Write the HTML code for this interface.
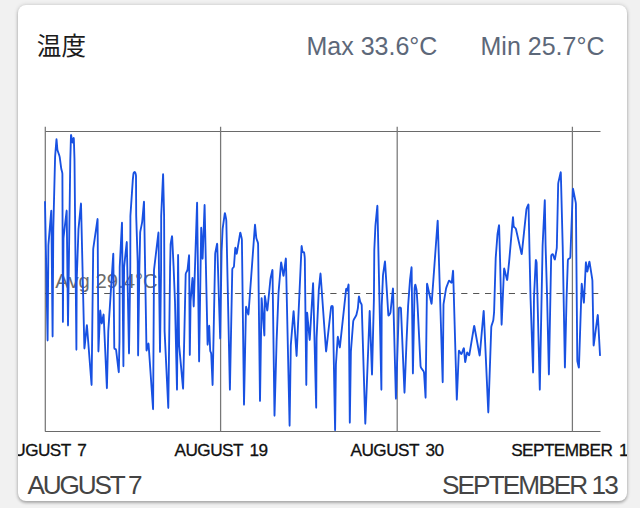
<!DOCTYPE html>
<html lang="ja">
<head>
<meta charset="utf-8">
<title>温度</title>
<style>
html,body{margin:0;padding:0;}
body{width:640px;height:508px;overflow:hidden;background:#f1f1f1;font-family:"Liberation Sans","Noto Sans CJK JP",sans-serif;position:relative;}
.card{position:absolute;left:18px;top:5px;width:609px;height:496px;background:#fff;border-radius:8px;box-shadow:0 2px 3px rgba(0,0,0,.24),0 0 4px rgba(0,0,0,.18);overflow:hidden;}
.title{position:absolute;left:18.8px;top:27.4px;font-size:24.6px;line-height:30px;color:#1c1c1c;}
.stat{position:absolute;top:26px;font-size:25px;line-height:30px;color:#5d6879;white-space:nowrap;}
.max{left:288.5px;}
.min{left:462.5px;}
svg{position:absolute;left:-18px;top:-5px;}
.xl{position:absolute;top:433.1px;font-size:17.2px;line-height:24px;color:#111;white-space:nowrap;transform:translateX(-50%);letter-spacing:-.55px;word-spacing:2.6px;-webkit-text-stroke:.3px #111;}
.big{position:absolute;top:465.3px;font-size:26.2px;line-height:30px;color:#444;white-space:nowrap;}
.avg{position:absolute;left:37.3px;top:262.3px;font-size:20.3px;line-height:28px;color:#6c6c6c;white-space:nowrap;}
</style>
</head>
<body>
<div class="card">
  <div class="title">温度</div>
  <div class="stat max">Max 33.6°C</div>
  <div class="stat min">Min 25.7°C</div>
  <div class="avg">Avg 29.4°C</div>
  <svg width="640" height="508" viewBox="0 0 640 508">
    <g stroke="#6a6a6a" stroke-width="1.15" fill="none">
      <line x1="45" y1="131.5" x2="600.5" y2="131.5"/>
      <line x1="45" y1="431.5" x2="600.5" y2="431.5"/>
    </g>
    <g stroke="#777" stroke-width="1.25" fill="none">
      <line x1="45.3" y1="126.7" x2="45.3" y2="431.5"/>
      <line x1="220.6" y1="126.7" x2="220.6" y2="431.5"/>
      <line x1="397.2" y1="126.7" x2="397.2" y2="431.5"/>
      <line x1="572.4" y1="126.7" x2="572.4" y2="431.5"/>
    </g>
    <line x1="45" y1="293.4" x2="600.5" y2="293.4" stroke="#555" stroke-width="1.05" stroke-dasharray="6.2,5.7" stroke-dashoffset="0.3"/>
    <path d="M45.0,202.0L47.58,339.90Q47.60,341.00 47.61,339.90L48.39,246.10Q48.40,245.00 48.49,243.90L51.21,211.10Q51.30,210.00 51.31,211.10L52.59,335.90Q52.60,337.00 52.61,335.90L53.29,230.10Q53.30,229.00 53.33,227.90L55.07,158.10Q55.10,157.00 55.18,155.90L56.42,139.80Q56.50,138.70 56.59,139.80L57.31,148.90Q57.40,150.00 57.76,151.04L59.24,155.26Q59.60,156.30 59.75,157.39L61.15,167.91Q61.30,169.00 61.59,170.06L62.11,171.94Q62.40,173.00 62.40,174.10L62.90,321.60Q62.90,322.70 62.91,321.60L63.49,239.10Q63.50,238.00 63.62,236.91L66.58,211.09Q66.70,210.00 66.71,211.10L67.99,324.90Q68.00,326.00 68.02,324.90L70.28,161.10Q70.30,160.00 70.33,158.90L70.97,135.40Q71.00,134.30 71.19,135.38L72.31,141.92Q72.50,143.00 72.75,141.93L73.55,138.47Q73.80,137.40 73.83,138.50L74.47,158.90Q74.50,160.00 74.51,161.10L76.39,349.20Q76.40,350.30 76.40,349.20L76.70,281.10Q76.70,280.00 76.74,278.90L78.46,230.10Q78.50,229.00 78.61,227.91L80.89,204.09Q81.00,203.00 81.03,204.10L84.37,347.90Q84.40,349.00 84.51,347.91L86.79,325.69Q86.90,324.60 86.98,325.70L91.52,384.50Q91.60,385.60 91.61,384.50L93.19,250.10Q93.20,249.00 93.36,247.91L97.44,219.59Q97.60,218.50 97.61,219.60L98.39,350.90Q98.40,352.00 98.45,350.90L100.15,311.10Q100.20,310.00 100.32,311.09L101.58,322.91Q101.70,324.00 101.91,322.92L103.39,315.08Q103.60,314.00 103.65,315.10L106.85,387.80Q106.90,388.90 106.93,387.80L108.27,332.10Q108.30,331.00 108.37,329.90L113.23,254.10Q113.30,253.00 113.31,254.10L114.29,347.90Q114.30,349.00 115.15,349.00L115.15,349.00Q116.00,349.00 116.13,350.09L118.67,371.71Q118.80,372.80 118.82,371.70L119.48,341.10Q119.50,340.00 119.50,338.90L119.70,268.10Q119.70,267.00 119.76,265.90L121.94,223.10Q122.00,222.00 122.01,223.10L123.39,365.70Q123.40,366.80 123.41,365.70L124.09,268.10Q124.10,267.00 124.22,265.91L126.68,242.59Q126.80,241.50 126.82,242.60L128.98,352.90Q129.00,354.00 129.02,352.90L130.28,268.10Q130.30,267.00 130.30,265.90L130.40,217.10Q130.40,216.00 130.47,214.90L132.73,181.10Q132.80,180.00 132.91,178.91L133.39,174.09Q133.50,173.00 134.25,172.30L134.25,172.30Q135.00,171.60 135.31,172.66L135.69,173.94Q136.00,175.00 136.01,176.10L136.19,214.90Q136.20,216.00 136.24,217.10L137.66,260.90Q137.70,262.00 137.70,263.10L138.10,354.90Q138.10,356.00 138.12,354.90L139.38,268.10Q139.40,267.00 139.43,265.90L140.17,233.10Q140.20,232.00 140.42,230.92L141.98,223.08Q142.20,222.00 142.29,220.90L143.91,202.10Q144.00,201.00 144.02,202.10L146.48,349.90Q146.50,351.00 146.77,349.93L148.23,344.07Q148.50,343.00 148.58,344.10L153.02,408.70Q153.10,409.80 153.11,408.70L153.99,271.10Q154.00,270.00 154.13,268.91L158.37,233.09Q158.50,232.00 158.51,233.10L159.99,351.60Q160.00,352.70 160.01,351.60L161.09,268.10Q161.10,267.00 161.10,265.90L161.20,217.10Q161.20,216.00 161.25,214.90L163.05,174.60Q163.10,173.50 163.13,174.60L164.07,214.90Q164.10,216.00 164.10,217.10L164.60,329.90Q164.60,331.00 164.65,332.10L168.25,407.40Q168.30,408.50 168.31,407.40L170.09,268.10Q170.10,267.00 170.12,265.90L170.58,245.10Q170.60,244.00 170.79,242.92L171.91,236.68Q172.10,235.60 172.15,236.70L173.55,265.90Q173.60,267.00 173.64,268.10L174.96,300.90Q175.00,302.00 175.02,303.10L176.98,389.20Q177.00,390.30 177.01,389.20L178.09,255.40Q178.10,254.30 178.11,255.40L179.09,343.90Q179.10,345.00 179.20,346.10L183.00,388.20Q183.10,389.30 183.12,388.20L185.68,274.40Q185.70,273.30 186.27,272.36L186.93,271.24Q187.50,270.30 187.61,269.21L188.99,255.79Q189.10,254.70 189.11,255.80L189.79,354.50Q189.80,355.60 189.82,354.50L190.58,302.00Q190.60,300.90 190.69,299.80L192.41,278.50Q192.50,277.40 192.54,278.50L193.66,305.90Q193.70,307.00 193.74,305.90L197.06,203.10Q197.10,202.00 197.11,203.10L199.09,361.10Q199.10,362.20 199.12,361.10L201.18,228.20Q201.20,227.10 201.25,228.20L202.55,258.20Q202.60,259.30 202.64,258.20L204.56,205.50Q204.60,204.40 204.62,205.50L207.58,344.20Q207.60,345.30 207.69,344.20L209.11,326.30Q209.20,325.20 209.24,326.30L210.16,350.20Q210.20,351.30 210.70,352.15L210.70,352.15Q211.20,353.00 211.25,354.10L212.55,384.60Q212.60,385.70 212.62,384.60L215.18,254.30Q215.20,253.20 215.42,252.12L216.98,244.28Q217.20,243.20 217.23,244.30L220.17,338.10Q220.20,339.20 220.22,338.10L221.58,252.10Q221.60,251.00 221.65,249.90L222.55,230.10Q222.60,229.00 222.75,227.91L224.75,213.69Q224.90,212.60 225.10,213.68L226.10,218.92Q226.30,220.00 226.32,221.10L229.88,389.20Q229.90,390.30 229.92,389.20L232.28,269.40Q232.30,268.30 233.10,267.80L233.10,267.80Q233.90,267.30 233.98,266.20L235.22,248.30Q235.30,247.20 235.51,248.28L236.49,253.22Q236.70,254.30 236.88,253.21L240.12,233.19Q240.30,232.10 240.54,233.17L241.66,238.13Q241.90,239.20 241.91,240.30L243.99,404.20Q244.00,405.30 244.02,404.20L245.98,307.20Q246.00,306.10 246.28,307.16L248.12,314.04Q248.40,315.10 248.48,314.00L254.92,225.30Q255.00,224.20 255.10,225.30L256.20,237.10Q256.30,238.20 256.67,239.23L257.73,242.17Q258.10,243.20 258.11,244.30L259.99,400.60Q260.00,401.70 260.02,400.60L261.58,298.60Q261.60,297.50 261.68,298.60L264.32,335.10Q264.40,336.20 264.41,335.10L264.79,296.60Q264.80,295.50 264.97,296.59L267.13,310.01Q267.30,311.10 267.41,310.01L270.39,279.49Q270.50,278.40 270.74,277.33L272.26,270.37Q272.50,269.30 272.51,270.40L274.49,415.30Q274.50,416.40 274.53,415.30L276.57,342.10Q276.60,341.00 276.64,339.90L278.46,294.10Q278.50,293.00 278.59,291.90L281.01,263.00Q281.10,261.90 281.28,262.99L283.32,275.31Q283.50,276.40 283.64,275.31L285.76,258.99Q285.90,257.90 285.92,259.00L289.58,425.30Q289.60,426.40 289.62,425.30L290.78,346.40Q290.80,345.30 290.89,344.20L293.51,311.60Q293.60,310.50 293.67,311.60L296.53,355.40Q296.60,356.50 296.65,355.40L301.55,246.60Q301.60,245.50 301.76,246.59L302.44,251.41Q302.60,252.50 303.35,252.20L303.35,252.20Q304.10,251.90 304.23,252.99L304.67,256.91Q304.80,258.00 304.81,259.10L306.29,384.50Q306.30,385.60 306.31,384.50L307.09,313.20Q307.10,312.10 307.20,313.20L309.60,339.50Q309.70,340.60 309.76,339.50L313.04,283.70Q313.10,282.60 313.13,283.70L316.17,407.30Q316.20,408.40 316.21,407.30L316.59,339.10Q316.60,338.00 316.65,336.90L318.75,291.10Q318.80,290.00 318.91,288.91L320.39,274.09Q320.50,273.00 320.58,274.10L326.02,351.00Q326.10,352.10 326.22,351.01L331.08,307.09Q331.20,306.00 332.00,306.00L332.00,306.00Q332.80,306.00 332.82,307.10L335.08,429.80Q335.10,430.90 335.11,429.80L335.89,365.70Q335.90,364.60 335.97,363.50L337.73,337.30Q337.80,336.20 337.98,337.28L339.62,346.92Q339.80,348.00 339.92,346.91L346.08,289.29Q346.20,288.20 346.55,289.24L346.85,290.16Q347.20,291.20 347.40,290.12L348.40,284.88Q348.60,283.80 348.61,284.90L349.79,422.30Q349.80,423.40 349.82,422.30L350.88,352.40Q350.90,351.30 350.99,350.20L353.21,321.50Q353.30,320.40 353.86,319.45L355.74,316.25Q356.30,315.30 356.55,314.23L357.65,309.37Q357.90,308.30 357.99,307.20L358.81,297.00Q358.90,295.90 359.14,296.97L360.06,301.23Q360.30,302.30 360.93,303.20L361.07,303.40Q361.70,304.30 361.73,305.40L365.27,423.30Q365.30,424.40 365.34,423.30L369.66,311.40Q369.70,310.30 369.74,311.40L371.96,374.10Q372.00,375.20 372.03,374.10L373.87,301.10Q373.90,300.00 373.91,298.90L374.29,251.10Q374.30,250.00 374.35,248.90L375.35,227.10Q375.40,226.00 375.50,224.91L377.30,206.19Q377.40,205.10 377.42,206.20L381.38,389.20Q381.40,390.30 381.40,389.20L381.70,307.10Q381.70,306.00 381.75,304.90L382.95,276.10Q383.00,275.00 383.16,273.91L384.84,262.09Q385.00,261.00 385.07,262.10L388.33,314.90Q388.40,316.00 389.05,315.12L389.75,314.18Q390.40,313.30 390.51,312.21L392.89,288.89Q393.00,287.80 393.03,288.90L395.87,398.20Q395.90,399.30 395.94,398.20L398.86,308.40Q398.90,307.30 399.90,307.30L399.90,307.30Q400.90,307.30 400.95,308.40L404.45,392.20Q404.50,393.30 404.54,392.20L406.46,343.10Q406.50,342.00 406.55,340.90L408.05,307.10Q408.10,306.00 408.18,304.90L409.92,281.10Q410.00,280.00 410.13,278.91L411.47,267.69Q411.60,266.60 411.61,267.70L412.89,373.10Q412.90,374.20 412.92,373.10L414.58,289.10Q414.60,288.00 414.79,286.92L415.11,285.18Q415.30,284.10 415.54,285.17L416.36,288.93Q416.60,290.00 416.67,291.10L417.53,304.90Q417.60,306.00 417.65,307.10L420.55,365.90Q420.60,367.00 421.22,367.91L423.38,371.09Q424.00,372.00 424.07,373.10L425.53,397.20Q425.60,398.30 425.61,397.20L426.99,284.30Q427.00,283.20 427.23,284.27L431.37,303.23Q431.60,304.30 431.68,303.20L437.62,221.10Q437.70,220.00 437.73,221.10L442.67,381.70Q442.70,382.80 442.71,381.70L443.49,305.40Q443.50,304.30 443.68,303.21L445.92,289.29Q446.10,288.20 446.49,287.17L448.71,281.23Q449.10,280.20 449.82,281.03L450.98,282.37Q451.70,283.20 451.82,282.11L452.98,271.19Q453.10,270.10 453.13,271.20L456.77,399.20Q456.80,400.30 456.85,399.20L458.85,351.30Q458.90,350.20 459.44,351.16L460.86,353.64Q461.40,354.60 461.77,353.56L463.53,348.64Q463.90,347.60 463.99,348.70L465.11,361.60Q465.20,362.70 465.39,361.62L466.91,353.08Q467.10,352.00 467.63,352.96L468.67,354.84Q469.20,355.80 469.38,354.71L474.02,326.49Q474.20,325.40 474.39,326.48L479.51,355.02Q479.70,356.10 479.80,355.00L483.60,311.40Q483.70,310.30 483.75,311.40L488.25,411.90Q488.30,413.00 488.34,411.90L491.26,327.50Q491.30,326.40 491.65,325.36L492.95,321.44Q493.30,320.40 493.40,319.30L494.00,313.10Q494.10,312.00 494.13,310.90L495.67,259.10Q495.70,258.00 495.78,256.90L497.42,235.10Q497.50,234.00 497.68,232.92L498.92,225.68Q499.10,224.60 499.13,225.70L500.07,259.90Q500.10,261.00 500.13,262.10L501.57,324.30Q501.60,325.40 501.65,324.30L504.05,269.10Q504.10,268.00 504.36,269.07L506.94,279.53Q507.20,280.60 507.31,279.51L509.09,262.09Q509.20,261.00 509.29,259.90L512.91,217.60Q513.00,216.50 513.07,217.60L513.63,225.90Q513.70,227.00 514.68,227.49L514.72,227.51Q515.70,228.00 515.94,229.07L521.46,253.63Q521.70,254.70 521.81,253.61L526.39,209.69Q526.50,208.60 526.94,207.59L528.06,205.01Q528.50,204.00 528.52,205.10L529.38,244.90Q529.40,246.00 529.42,247.10L530.48,295.90Q530.50,297.00 530.54,298.10L533.06,372.10Q533.10,373.20 533.11,372.10L533.99,298.10Q534.00,297.00 534.05,295.90L535.75,260.60Q535.80,259.50 536.14,260.55L536.26,260.95Q536.60,262.00 536.63,263.10L539.77,389.20Q539.80,390.30 539.82,389.20L541.58,298.10Q541.60,297.00 541.62,295.90L542.58,247.10Q542.60,246.00 542.65,244.90L544.75,200.60Q544.80,199.50 544.82,200.60L545.58,244.90Q545.60,246.00 545.63,247.10L547.07,295.90Q547.10,297.00 547.13,298.10L548.87,374.10Q548.90,375.20 548.92,374.10L551.18,256.20Q551.20,255.10 552.00,254.40L552.00,254.40Q552.80,253.70 553.13,254.75L554.47,259.05Q554.80,260.10 554.98,259.01L556.62,249.09Q556.80,248.00 556.82,246.90L558.18,184.30Q558.20,183.20 558.44,182.13L560.56,172.77Q560.80,171.70 560.83,172.80L562.67,244.90Q562.70,246.00 562.72,247.10L564.88,367.10Q564.90,368.20 564.93,367.10L566.57,298.10Q566.60,297.00 566.64,295.90L567.86,260.20Q567.90,259.10 568.92,258.68L569.28,258.52Q570.30,258.10 570.34,257.00L572.86,189.30Q572.90,188.20 573.12,189.28L575.68,202.12Q575.90,203.20 575.91,204.30L577.29,359.90Q577.30,361.00 577.54,362.07L578.66,367.13Q578.90,368.20 578.94,367.10L581.66,284.30Q581.70,283.20 581.82,284.29L583.78,302.21Q583.90,303.30 583.95,302.20L585.85,262.80Q585.90,261.70 586.05,262.79L587.15,271.01Q587.30,272.10 587.51,271.02L589.19,262.18Q589.40,261.10 589.57,262.19L592.23,279.11Q592.40,280.20 592.42,281.30L593.58,345.00Q593.60,346.10 593.74,345.01L597.66,315.39Q597.80,314.30 597.86,315.40L600.0,355.1" fill="none" stroke="#1851e2" stroke-width="1.85" stroke-linejoin="round" stroke-linecap="round"/>
  </svg>
  <div class="xl" style="left:26.3px">AUGUST 7</div>
  <div class="xl" style="left:203px">AUGUST 19</div>
  <div class="xl" style="left:379px">AUGUST 30</div>
  <div class="xl" style="left:555.5px">SEPTEMBER 11</div>
  <div class="big" style="left:9.6px;letter-spacing:-2.2px">AUGUST 7</div>
  <div class="big" style="right:10.2px;letter-spacing:-1.93px">SEPTEMBER 13</div>
</div>
</body>
</html>
